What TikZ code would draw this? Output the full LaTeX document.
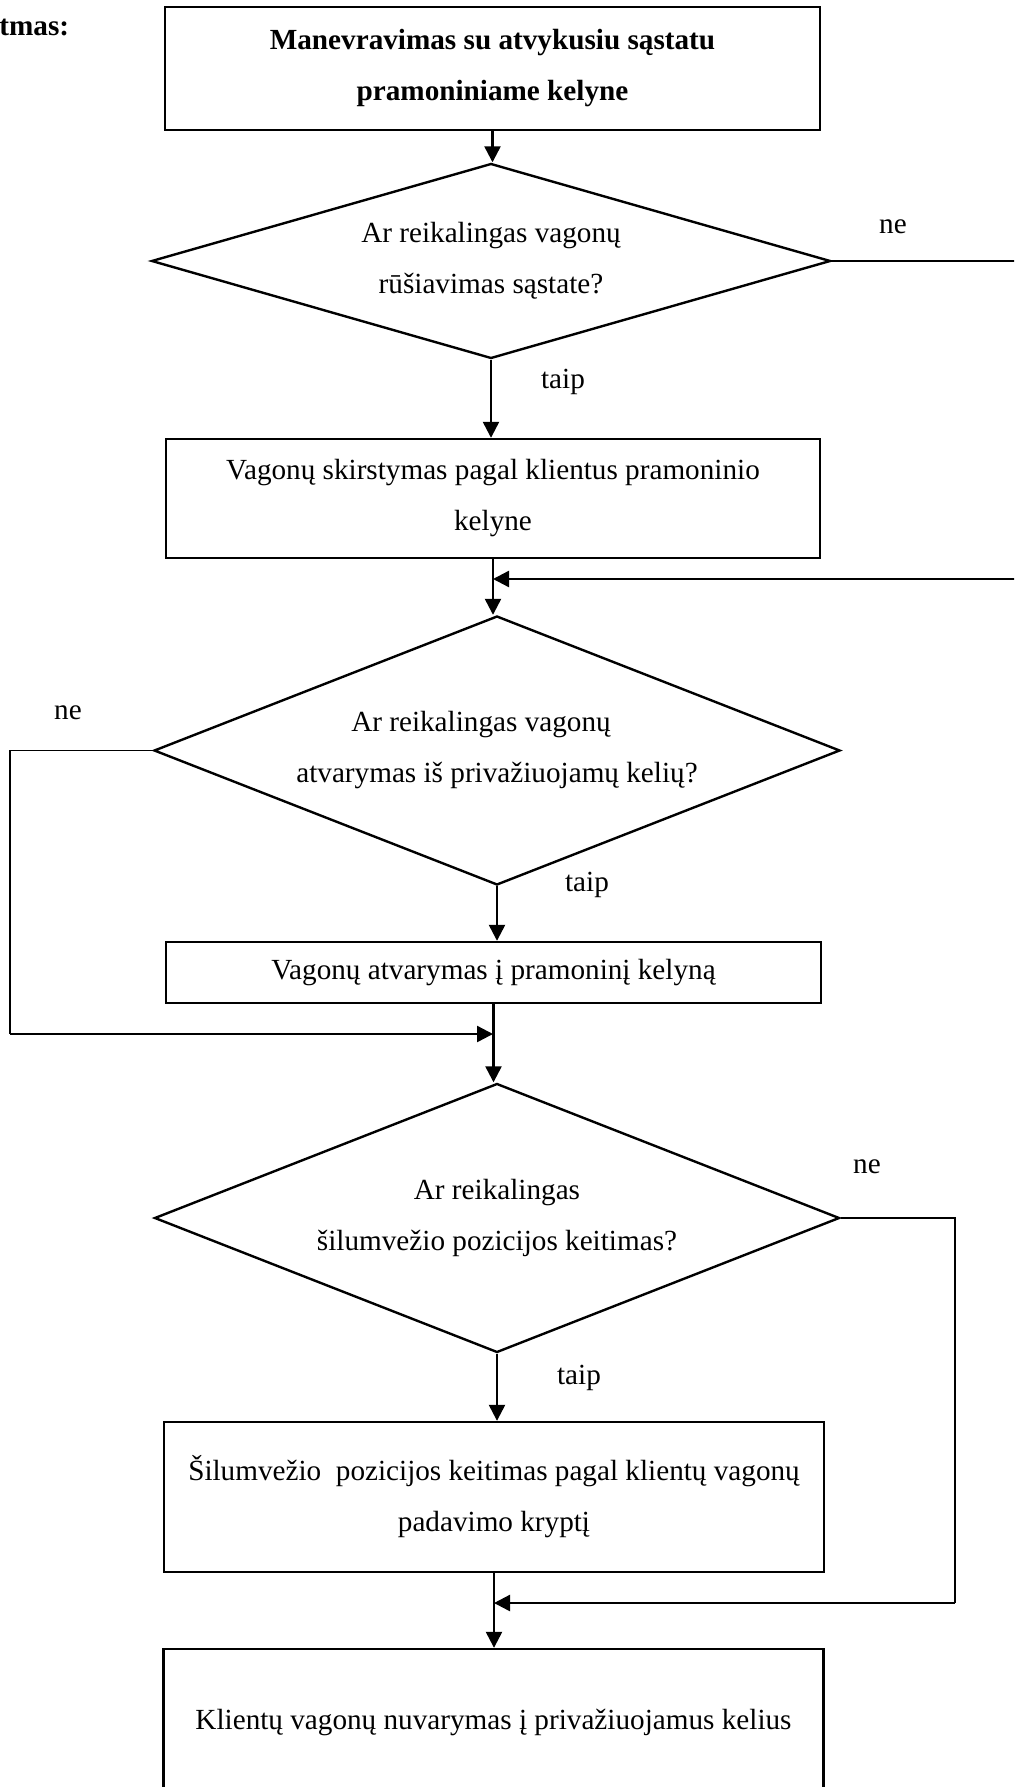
\documentclass[tikz,border=0pt]{standalone}
\usepackage{fontspec}
\setmainfont{Liberation Serif}
\usepackage{tikz}
\usetikzlibrary{positioning,calc}
\usetikzlibrary{arrows.meta,shapes.geometric}
\newcommand{\flowfont}{\fontsize{14.6}{25.5}\selectfont}
\tikzset{
  proc/.style={rectangle,draw=black,line width=1.2pt,inner sep=0pt,align=center,font=\flowfont},
  cond/.style={diamond,aspect=3,draw=black,line width=1.2pt,inner sep=0pt,align=center,font=\flowfont},
  flow/.style={draw=black,line width=1.2pt,-{Triangle[length=8pt,width=8pt]}},
  wire/.style={draw=black,line width=0.55pt},
}
\tikzset{tag/.style={inner sep=0pt,font=\flowfont}}

\begin{document}
\begin{tikzpicture}[x=0.5pt,y=-0.5pt]
\useasboundingbox (0,0) rectangle (1014,1787);
\clip (0,0) rectangle (1014,1787);
\node[tag,font=\flowfont\bfseries,anchor=base west] (title) at (-1,36) {tmas:};
\node[proc,font=\flowfont\bfseries,minimum width=327.5pt,minimum height=61.5pt] (start) at (492.5,68.5) {Manevravimas su atvykusiu sąstatu\\pramoniniame kelyne};
\node[cond,minimum width=339.5pt,minimum height=97.5pt] (d1) at (491,261) {Ar reikalingas vagonų\\rūšiavimas sąstate?};
\node[proc,minimum width=327pt,minimum height=59.5pt] (sort) at (493,498.5) {Vagonų skirstymas pagal klientus pramoninio\\kelyne};
\node[cond,minimum width=343pt,minimum height=134.5pt] (d2) at (497,750.5) {Ar reikalingas vagonų\hspace*{16pt}\\atvarymas iš privažiuojamų kelių?};
\node[proc,minimum width=327.5pt,minimum height=30.5pt] (fetch) at (493.5,972.5) {Vagonų atvarymas į pramoninį kelyną};
\node[cond,minimum width=342.5pt,minimum height=134.5pt] (d3) at (497,1218) {Ar reikalingas\\šilumvežio pozicijos keitimas?};
\node[proc,minimum width=330pt,minimum height=75pt] (turn) at (494,1497) {Šilumvežio~ pozicijos keitimas pagal klientų vagonų\\padavimo kryptį};
\node[proc,minimum width=330pt,minimum height=73pt] (deliver) at (493.5,1722) {Klientų vagonų nuvarymas į privažiuojamus kelius};

\coordinate (j1) at (493,579);
\coordinate (j2) at (493,1034);
\coordinate (j3) at (494,1603);
\coordinate (r1) at (1030,579);
\coordinate (l1) at (10,1034);
\coordinate (r3) at (955,1603);

\draw[flow] (start.south) -- (start.south |- d1.north);
\draw[flow] (d1.south) -- (d1.south |- sort.north);
\draw[flow] (sort.south) -- (sort.south |- d2.north);
\draw[flow] (d2.south) -- (d2.south |- fetch.north);
\draw[flow] (fetch.south) -- (fetch.south |- d3.north);
\draw[flow] (d3.south) -- (d3.south |- turn.north);
\draw[flow] (turn.south) -- (turn.south |- deliver.north);
\draw[wire] (d1.east) -| (r1);
\draw[flow] (r1) -- (j1);
\draw[wire] (d2.west) -| (l1);
\draw[flow] (l1) -- (j2);
\draw[wire] (d3.east) -| (r3);
\draw[flow] (r3) -- (j3);

\node[tag] (ne1) at (893,227) {ne};
\node[tag] (taip1) at (563,382) {taip};
\node[tag] (ne2) at (68,713) {ne};
\node[tag] (taip2) at (587,885) {taip};
\node[tag] (ne3) at (867,1167) {ne};
\node[tag] (taip3) at (579,1378) {taip};
\end{tikzpicture}
\end{document}
